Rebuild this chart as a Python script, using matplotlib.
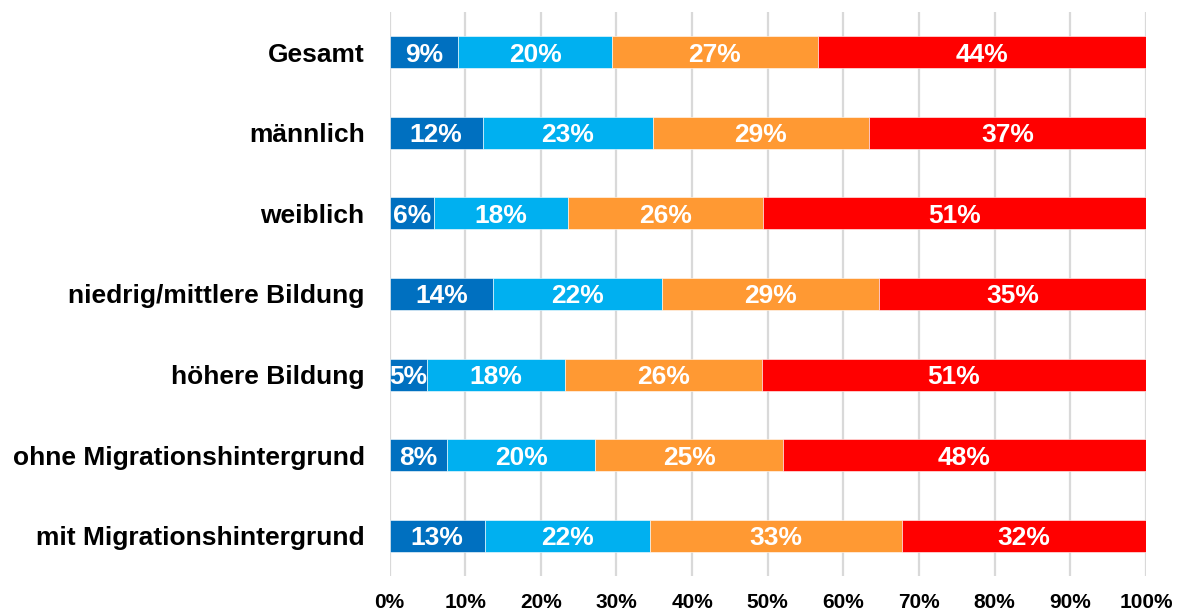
import matplotlib
matplotlib.use("Agg")
import matplotlib.pyplot as plt
from matplotlib.ticker import PercentFormatter

plt.rcParams['font.family'] = ['Liberation Sans', 'DejaVu Sans']

categories = ['Gesamt', 'männlich', 'weiblich', 'niedrig/mittlere Bildung',
              'höhere Bildung', 'ohne Migrationshintergrund', 'mit Migrationshintergrund']

# shares per answer category, and the printed labels
seg1 = [9.1, 12.3, 5.9, 13.7, 4.9, 7.6, 12.6]
seg2 = [20.3, 22.5, 17.7, 22.3, 18.3, 19.6, 21.8]
seg3 = [27.2, 28.6, 25.8, 28.7, 26.0, 24.8, 33.4]
seg4 = [43.4, 36.6, 50.6, 35.3, 50.8, 48.0, 32.2]
lab1 = [9, 12, 6, 14, 5, 8, 13]
lab2 = [20, 23, 18, 22, 18, 20, 22]
lab3 = [27, 29, 26, 29, 26, 25, 33]
lab4 = [44, 37, 51, 35, 51, 48, 32]

colors = ['#0070C0', '#00B0F0', '#FF9933', '#FF0000']

fig = plt.figure(figsize=(11.8, 6.11), dpi=100)
ax = fig.add_axes([0.3301, 0.0568, 0.6411, 0.9241])

y = list(range(len(categories)))
left = [0.0] * len(categories)
for vals, labs, col in zip([seg1, seg2, seg3, seg4], [lab1, lab2, lab3, lab4], colors):
    bars = ax.barh(y, vals, left=left, height=0.4, color=col,
                   edgecolor='white', linewidth=0.4, zorder=3)
    texts = ax.bar_label(bars, labels=[f'{l}%' for l in labs], label_type='center',
                         color='white', fontsize=19, fontweight='bold')
    for t in texts:
        t.set_va('center_baseline')
    left = [a + b for a, b in zip(left, vals)]

ax.set_xlim(0, 100)
ax.set_ylim(len(categories) - 0.5, -0.5)
ax.set_yticks(y)
ax.set_yticklabels(categories, fontsize=19, fontweight='bold')
ax.set_xticks(range(0, 101, 10))
ax.xaxis.set_major_formatter(PercentFormatter(decimals=0))
for t in ax.get_xticklabels():
    t.set_fontweight('bold')
ax.tick_params(axis='x', length=0, labelsize=15, pad=12)
ax.tick_params(axis='y', length=0, pad=18)
ax.grid(axis='x', color='#D9D9D9', linewidth=1.6, zorder=0)
for s in ax.spines.values():
    s.set_visible(False)

fig.savefig('out.png', dpi=100)
